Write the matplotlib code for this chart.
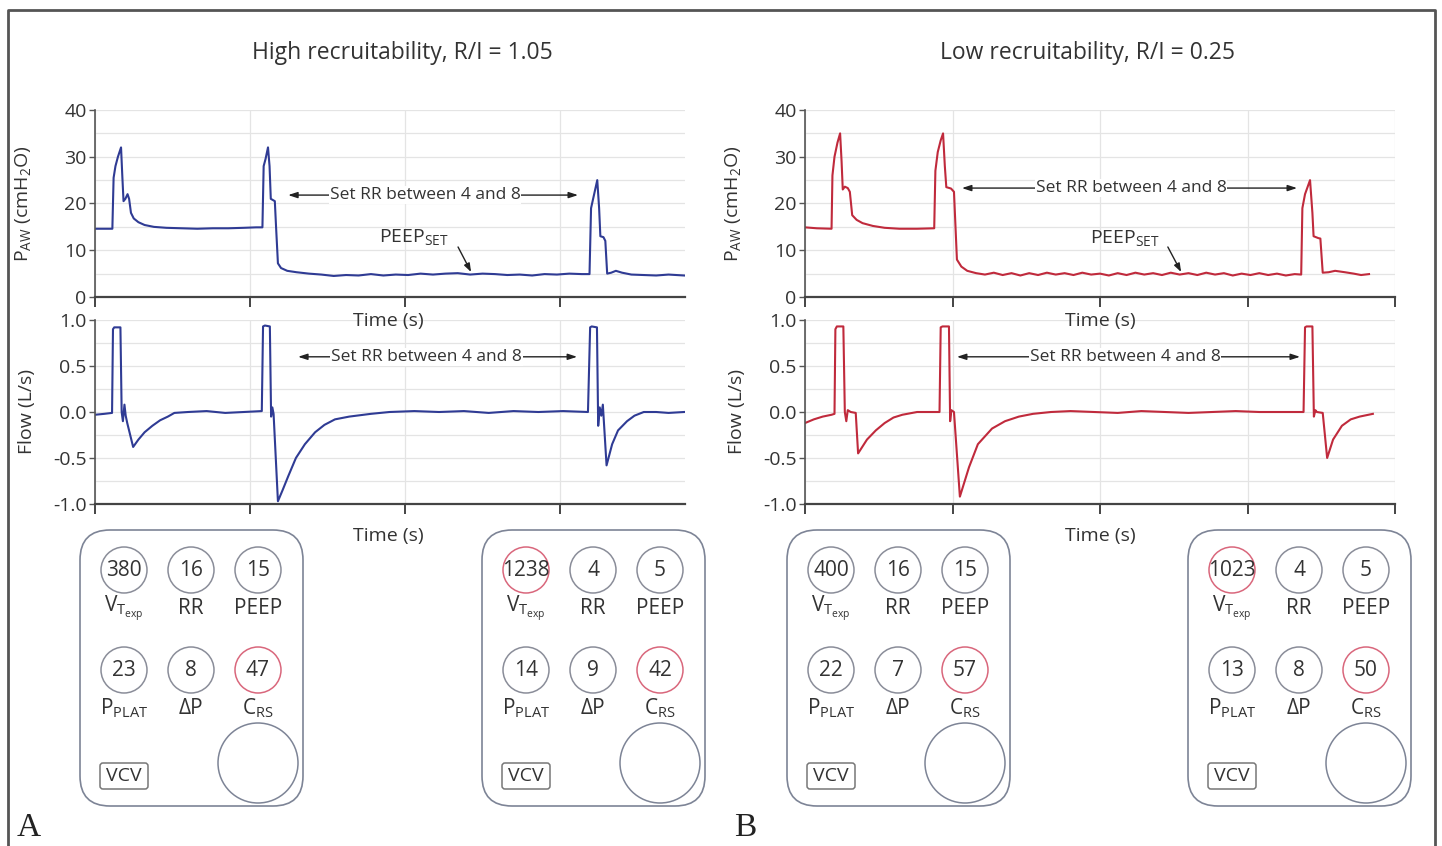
import matplotlib
matplotlib.use('Agg')
import matplotlib.pyplot as plt
from matplotlib.patches import FancyBboxPatch, Circle
from matplotlib.lines import Line2D

plt.rcParams['font.family'] = ['Open Sans', 'DejaVu Sans']
plt.rcParams['mathtext.default'] = 'regular'

# ---------------- data ----------------
titles = ["High recruitability, R/I = 1.05", "Low recruitability, R/I = 0.25"]

# Panel A (high recruitability) airway pressure, cmH2O
t_pa = [0.0, 0.3, 0.56, 0.60, 0.66, 0.74, 0.84, 0.88, 0.92, 0.98, 1.05, 1.10, 1.16, 1.25, 1.4, 1.6,
        1.9, 2.3, 2.8, 3.3, 3.8, 4.3, 4.8, 5.2, 5.40,
        5.44, 5.50, 5.58, 5.63, 5.67, 5.80, 5.84, 5.90, 6.0, 6.2, 6.5, 6.9, 7.3, 7.7, 8.1, 8.5, 8.9,
        9.3, 9.7, 10.1, 10.5, 10.9, 11.3, 11.7, 12.1, 12.5, 12.9, 13.3, 13.7, 14.1, 14.5, 14.9, 15.3,
        15.7, 15.95,
        16.0, 16.1, 16.2, 16.26, 16.30, 16.40, 16.46, 16.52, 16.65, 16.8, 17.0, 17.3, 17.7, 18.1, 18.5, 19.0]
p_a = [14.6, 14.6, 14.6, 25.5, 28, 30, 32, 26, 20.5, 21, 22, 21, 18, 16.8, 16, 15.4,
       15.0, 14.8, 14.7, 14.6, 14.7, 14.7, 14.8, 14.9, 14.9,
       28, 29.5, 32, 28, 21, 20.5, 15, 7.2, 6.2, 5.6, 5.3, 5.0, 4.8, 4.5, 4.7, 4.6, 4.9,
       4.6, 4.8, 4.7, 5.0, 4.8, 5.0, 5.1, 4.8, 5.0, 4.9, 4.7, 4.8, 4.6, 4.9, 4.8, 5.0,
       4.9, 4.9,
       19, 22, 25, 19, 13, 12.8, 12, 5.0, 5.2, 5.6, 5.2, 4.8, 4.7, 4.6, 4.8, 4.6]

# Panel A flow, L/s
t_fa = [0.0, 0.3, 0.55, 0.58, 0.62, 0.82, 0.86, 0.90, 0.95, 0.99, 1.04, 1.23, 1.4, 1.6, 1.85,
        2.1, 2.35, 2.56, 3.0, 3.6, 4.2, 4.8, 5.38,
        5.42, 5.48, 5.64, 5.68, 5.72, 5.76, 5.90, 6.05, 6.23, 6.48, 6.77, 7.1, 7.4, 7.74, 8.2,
        8.9, 9.5, 10.3, 11.1, 11.9, 12.7, 13.5, 14.3, 15.1, 15.9,
        15.97, 16.02, 16.19, 16.23, 16.28, 16.33, 16.38, 16.50, 16.68, 16.87, 17.16, 17.4, 17.7,
        18.1, 18.5, 19.0]
f_a = [-0.03, -0.02, -0.01, 0.90, 0.92, 0.92, 0.0, -0.10, 0.08, -0.04, -0.12, -0.38, -0.30, -0.22, -0.15,
       -0.09, -0.05, -0.01, 0.0, 0.01, -0.01, 0.0, 0.01,
       0.93, 0.94, 0.93, -0.05, 0.05, -0.02, -0.97, -0.85, -0.70, -0.50, -0.35, -0.22, -0.14, -0.08, -0.05,
       -0.02, 0.0, 0.01, 0.0, 0.01, -0.01, 0.01, 0.0, 0.01, 0.0,
       0.92, 0.93, 0.92, -0.15, 0.05, -0.04, 0.08, -0.58, -0.35, -0.20, -0.10, -0.04, 0.0,
       0.0, -0.01, 0.0]

# Panel B (low recruitability) airway pressure, cmH2O
t_pb = [0.0, 0.4, 0.9, 0.93, 1.0, 1.1, 1.19, 1.24, 1.28, 1.35, 1.45, 1.52, 1.6, 1.75, 1.95, 2.3, 2.7,
        3.2, 3.8, 4.38,
        4.42, 4.5, 4.6, 4.68, 4.74, 4.79, 4.95, 5.05, 5.15, 5.3, 5.5, 5.8, 6.1, 6.4, 6.7, 7.0, 7.3,
        7.6, 7.9, 8.2, 8.5, 8.8, 9.1, 9.4, 9.7, 10.0, 10.3, 10.6, 10.9, 11.2, 11.5, 11.8, 12.1, 12.4,
        12.7, 13.0, 13.3, 13.6, 13.9, 14.2, 14.5, 14.8, 15.1, 15.4, 15.7, 16.0, 16.3, 16.6, 16.82,
        16.86, 16.95, 17.12, 17.2, 17.24, 17.4, 17.47, 17.55, 17.75, 17.97, 18.3, 18.6, 18.85, 19.12]
p_b = [14.9, 14.7, 14.6, 26, 30, 33, 35, 29, 23, 23.6, 23.3, 22.5, 17.5, 16.5, 15.8, 15.2, 14.8,
       14.6, 14.6, 14.7,
       27, 31, 33.5, 35, 28, 23.5, 23.2, 22.5, 8.0, 6.5, 5.6, 5.1, 4.8, 5.2, 4.7, 5.1, 4.6,
       5.1, 4.7, 5.2, 4.8, 5.1, 4.7, 5.2, 4.8, 5.0, 4.6, 5.1, 4.7, 5.2, 4.8, 5.1, 4.7, 5.2,
       4.8, 5.1, 4.7, 5.2, 4.8, 5.1, 4.6, 5.0, 4.7, 5.1, 4.7, 5.0, 4.6, 4.9, 4.8,
       19, 22, 25, 18, 13, 12.6, 12.5, 5.2, 5.3, 5.6, 5.3, 5.0, 4.7, 4.9]

# Panel B flow, L/s
t_fb = [0.0, 0.3, 0.6, 0.9, 1.0, 1.03, 1.08, 1.30, 1.35, 1.40, 1.45, 1.55, 1.72, 1.80, 2.1, 2.4, 2.7,
        3.0, 3.3, 3.8, 4.2, 4.56,
        4.60, 4.66, 4.88, 4.92, 4.96, 5.05, 5.25, 5.56, 5.86, 6.34, 6.78, 7.25, 7.73, 8.34, 9.0,
        9.8, 10.6, 11.4, 12.2, 13.0, 13.8, 14.6, 15.4, 16.2, 16.9,
        16.95, 17.0, 17.2, 17.25, 17.3, 17.35, 17.55, 17.70, 17.9, 18.2, 18.5, 18.8, 19.1, 19.25]
f_b = [-0.12, -0.08, -0.05, -0.03, -0.02, 0.90, 0.93, 0.93, 0.0, -0.10, 0.02, 0.0, -0.01, -0.45,
       -0.30, -0.20, -0.12, -0.06, -0.03, 0.0, 0.0, 0.0,
       0.92, 0.93, 0.93, -0.10, 0.02, 0.0, -0.92, -0.60, -0.35, -0.18, -0.10, -0.05, -0.02, 0.0, 0.01,
       0.0, -0.01, 0.01, 0.0, -0.01, 0.0, 0.01, 0.0, 0.0, 0.0,
       0.92, 0.93, 0.93, -0.05, 0.02, 0.0, -0.01, -0.50, -0.30, -0.15, -0.08, -0.05, -0.03, -0.02]

# ventilator readouts (A-left, A-right, B-left, B-right)
vt = [380, 1238, 400, 1023]
rr = [16, 4, 16, 4]
peep = [15, 5, 15, 5]
pplat = [23, 14, 22, 13]
dp = [8, 9, 7, 8]
crs = [47, 42, 57, 50]
vt_flag = [False, True, False, True]

# ---------------- figure ----------------
W, H = 1442, 846
fig = plt.figure(figsize=(W / 100, H / 100), dpi=100)
fig.patch.set_facecolor('white')

ov = fig.add_axes([0, 0, 1, 1], zorder=0)
ov.set_xlim(0, W)
ov.set_ylim(H, 0)
ov.axis('off')

TXT = '#333333'
BLUE = '#2f3b94'
RED = '#c02a3c'


def ax_px(x0, y0, x1, y1):
    a = fig.add_axes([x0 / W, 1 - y1 / H, (x1 - x0) / W, (y1 - y0) / H], zorder=2)
    a.patch.set_alpha(0)
    return a


def style(a, xmax, xt, yt, ymt, ylim):
    a.set_xlim(0, xmax)
    a.set_ylim(*ylim)
    a.set_xticks(xt)
    a.set_xticklabels([])
    a.set_yticks(yt)
    a.set_yticks(ymt, minor=True)
    a.grid(True, which='both', axis='y', color='#e4e4e4', lw=0.9)
    a.grid(True, which='major', axis='x', color='#e4e4e4', lw=0.9)
    a.set_axisbelow(True)
    for s in ['top', 'right']:
        a.spines[s].set_visible(False)
    a.spines['left'].set_color('#555555')
    a.spines['bottom'].set_color('#444444')
    a.spines['left'].set_linewidth(1.2)
    a.spines['bottom'].set_linewidth(1.6)
    a.tick_params(axis='x', which='major', direction='out', length=7, width=1.4, color='#444444')
    a.tick_params(axis='y', which='major', direction='out', length=4, width=1.0, color='#555555',
                  labelsize=14, labelcolor=TXT, pad=2)
    a.tick_params(axis='y', which='minor', length=0)


panels = [
    dict(x0=95, x1=685, xmax=19.03, xt=[0, 5, 10, 15], tp=t_pa, p=p_a, tf=t_fa, f=f_a, c=BLUE,
         arr_p=(6.23, 15.58, 21.8, 10.65), arr_f=(6.55, 15.55, 0.6, 10.7),
         peep_txt=(10.3, 12.8), peep_arr=(11.71, 10.7, 12.13, 5.35), tcx=388, title_x=402),
    dict(x0=805, x1=1395, xmax=20.0, xt=[0, 5, 10, 15, 20], tp=t_pb, p=p_b, tf=t_fb, f=f_b, c=RED,
         arr_p=(5.32, 16.68, 23.3, 11.05), arr_f=(5.15, 16.78, 0.6, 10.85),
         peep_txt=(10.85, 12.6), peep_arr=(12.3, 10.7, 12.75, 5.35), tcx=1100, title_x=1088),
]

arrow_kw = dict(arrowstyle='<|-|>,head_length=0.55,head_width=0.18', color='#222222', lw=1.0,
                shrinkA=0, shrinkB=0)

for pn, ttl in zip(panels, titles):
    ap = ax_px(pn['x0'], 110, pn['x1'], 297)
    style(ap, pn['xmax'], pn['xt'], [0, 10, 20, 30, 40], [5, 15, 25, 35], (0, 40))
    ap.plot(pn['tp'], pn['p'], color=pn['c'], lw=1.5)
    ap.set_ylabel(r'P$_{AW}$ (cmH$_{2}$O)', fontsize=14, color=TXT)
    ap.yaxis.set_label_coords(-0.105, 0.5)

    a_x0, a_x1, a_y, a_tx = pn['arr_p']
    ap.annotate('', xy=(a_x0, a_y), xytext=(a_x1, a_y), arrowprops=arrow_kw)
    ap.text(a_tx, a_y, 'Set RR between 4 and 8', ha='center', va='center', fontsize=12.5,
            color=TXT, bbox=dict(fc='white', ec='none', pad=0.6))
    ap.text(*pn['peep_txt'], r'PEEP$_{SET}$', ha='center', va='center', fontsize=14, color=TXT)
    sx, sy, ex, ey = pn['peep_arr']
    ap.annotate('', xy=(ex, ey), xytext=(sx, sy),
                arrowprops=dict(arrowstyle='-|>,head_length=0.5,head_width=0.18', color='#222222',
                                lw=1.0, shrinkA=0, shrinkB=0))

    af = ax_px(pn['x0'], 320, pn['x1'], 504)
    style(af, pn['xmax'], pn['xt'], [-1.0, -0.5, 0.0, 0.5, 1.0], [-0.75, -0.25, 0.25, 0.75], (-1, 1))
    af.set_yticklabels(['-1.0', '-0.5', '0.0', '0.5', '1.0'])
    af.plot(pn['tf'], pn['f'], color=pn['c'], lw=1.5)
    af.set_ylabel('Flow (L/s)', fontsize=14, color=TXT)
    af.yaxis.set_label_coords(-0.1, 0.5)
    f_x0, f_x1, f_y, f_tx = pn['arr_f']
    af.annotate('', xy=(f_x0, f_y), xytext=(f_x1, f_y), arrowprops=arrow_kw)
    af.text(f_tx, f_y, 'Set RR between 4 and 8', ha='center', va='center', fontsize=12.5,
            color=TXT, bbox=dict(fc='white', ec='none', pad=0.6))

    ov.text(pn['title_x'], 53, ttl, ha='center', va='center', fontsize=16.5, color=TXT)
    fig.text(pn['tcx'] / W, 1 - 321 / H, 'Time (s)', ha='center', va='center', fontsize=14,
             color=TXT, zorder=5)
    ov.text(pn['tcx'], 536, 'Time (s)', ha='center', va='center', fontsize=14, color=TXT)

# ---------------- readout boxes ----------------
BOX = '#7d8496'
GRAY_C = '#8a8d99'
RED_C = '#d9677c'
box_x0 = [80, 482, 787, 1188]
col_dx = [44, 111, 178]
row_y = [570, 670]
lab_y = [608, 708]
for i, bx in enumerate(box_x0):
    ov.add_patch(FancyBboxPatch((bx, 530), 223, 276, boxstyle='round,pad=0,rounding_size=30',
                                ec=BOX, fc='none', lw=1.2))
    row1 = [(vt[i], r'V$_{T_{exp}}$', RED_C if vt_flag[i] else GRAY_C),
            (rr[i], 'RR', GRAY_C), (peep[i], 'PEEP', GRAY_C)]
    row2 = [(pplat[i], r'P$_{PLAT}$', GRAY_C), (dp[i], 'ΔP', GRAY_C), (crs[i], r'C$_{RS}$', RED_C)]
    for r, row in enumerate([row1, row2]):
        for j, (val, lab, col) in enumerate(row):
            cx = bx + col_dx[j]
            ov.add_patch(Circle((cx, row_y[r]), 23, ec=col, fc='none', lw=1.1))
            ov.text(cx, row_y[r] + 1, str(val), ha='center', va='center', fontsize=15, color=TXT)
            ov.text(cx, lab_y[r], lab, ha='center', va='center', fontsize=15, color=TXT)
    ov.add_patch(Circle((bx + 178, 763), 40, ec=BOX, fc='none', lw=1.1))
    ov.add_patch(FancyBboxPatch((bx + 20, 763), 48, 26, boxstyle='round,pad=0,rounding_size=3',
                                ec='#777777', fc='none', lw=1.1))
    ov.text(bx + 44, 776, 'VCV', ha='center', va='center', fontsize=14, color=TXT)

# panel letters and frame
serif = ['Liberation Serif', 'DejaVu Serif']
ov.text(29, 828, 'A', ha='center', va='center', fontsize=24, family=serif, color='#222222')
ov.text(745, 828, 'B', ha='center', va='center', fontsize=24, family=serif, color='#222222')
ov.add_line(Line2D([8, 8, 1435, 1435], [850, 10, 10, 850], color='#555555', lw=2))

fig.savefig('out.png', dpi=100, facecolor='white')
